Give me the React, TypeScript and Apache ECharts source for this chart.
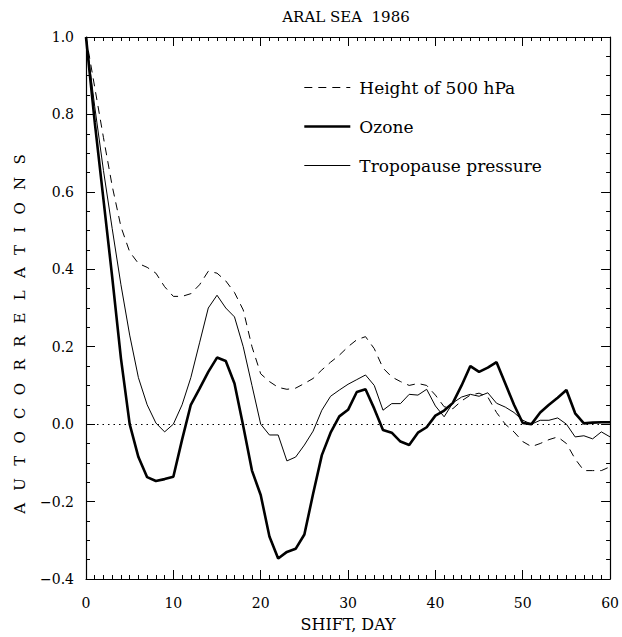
import React, { useEffect, useRef } from "react";
import * as echarts from "echarts";

const days: number[] = Array.from({ length: 61 }, (_, i) => i);

const height500: number[] = [
  1.0, 0.87, 0.74, 0.615, 0.51, 0.445, 0.415, 0.405, 0.39, 0.355,
  0.33, 0.33, 0.337, 0.36, 0.395, 0.39, 0.37, 0.34, 0.295, 0.2,
  0.13, 0.11, 0.095, 0.09, 0.093, 0.105, 0.118, 0.14, 0.16, 0.178,
  0.2, 0.218, 0.226, 0.195, 0.145, 0.122, 0.11, 0.1, 0.105, 0.1,
  0.075, 0.045, 0.04, 0.06, 0.075, 0.08, 0.07, 0.03, 0.0, -0.02,
  -0.045, -0.058, -0.05, -0.04, -0.033, -0.05, -0.09, -0.12, -0.12, -0.12,
  -0.11,
];

const ozone: number[] = [
  1.0, 0.78, 0.58, 0.38, 0.17, 0.0, -0.085, -0.137, -0.147, -0.142,
  -0.136, -0.04, 0.05, 0.092, 0.135, 0.172, 0.163, 0.105, -0.005, -0.12,
  -0.183, -0.29, -0.347, -0.33, -0.322, -0.285, -0.18, -0.08, -0.022, 0.02,
  0.037, 0.083, 0.09, 0.04, -0.015, -0.022, -0.045, -0.054, -0.022, -0.008,
  0.022, 0.035, 0.055, 0.1, 0.15, 0.135, 0.146, 0.16, 0.105, 0.05,
  0.003, 0.0, 0.03, 0.05, 0.068, 0.088, 0.028, 0.002, 0.004, 0.005,
  0.005,
];

const tropopause: number[] = [
  1.0, 0.82, 0.655, 0.505, 0.36, 0.23, 0.12, 0.05, 0.003, -0.02,
  0.0, 0.05, 0.12, 0.21, 0.3, 0.333, 0.3, 0.277, 0.2, 0.1,
  0.0, -0.028, -0.028, -0.095, -0.085, -0.054, -0.018, 0.036, 0.072, 0.088,
  0.103, 0.115, 0.127, 0.1, 0.036, 0.053, 0.053, 0.077, 0.075, 0.09,
  0.047, 0.019, 0.055, 0.07, 0.077, 0.072, 0.081, 0.054, 0.044, 0.03,
  0.01, 0.0, 0.01, 0.01, 0.016, 0.0, -0.033, -0.03, -0.038, -0.02,
  -0.033,
];

const seriesNames = ["Height of 500 hPa", "Ozone", "Tropopause pressure"];
const titleText = "ARAL SEA  1986";
const xName = "SHIFT, DAY";
const yName = "AUTOCORRELATIONS";

const FONT = "DejaVu Serif";

export default function App() {
  const ref = useRef<HTMLDivElement>(null);
  useEffect(() => {
    if (!ref.current) return;
    const chart = echarts.init(ref.current, null, { renderer: "svg" });
    const pairs = (ys: number[]) => days.map((d, i) => [d, ys[i]]);
    const axisCommon = {
      axisLine: { show: true, onZero: false, lineStyle: { color: "#000", width: 1.2 } },
      splitLine: { show: false },
    };
    const spacedY = yName.split("").join("\u2002\u00A0");
    const widths = [1, 2.6, 1];
    const dashes: any[] = [[8, 6], "solid", "solid"];
    chart.setOption({
      animation: false,
      backgroundColor: "#fff",
      grid: { left: 86, right: 10, top: 37, bottom: 57 },
      graphic: [
        {
          type: "text",
          x: 346,
          y: 17,
          style: {
            text: titleText,
            fontFamily: FONT,
            fontSize: 15,
            fill: "#000",
            align: "center",
            verticalAlign: "middle",
          },
        },
        {
          type: "text",
          x: 20,
          y: 334,
          rotation: Math.PI / 2,
          style: {
            text: spacedY,
            fontFamily: FONT,
            fontSize: 15,
            fill: "#000",
            align: "center",
            verticalAlign: "middle",
          },
        },
      ],
      legend: {
        orient: "vertical",
        left: 298,
        top: 74,
        itemWidth: 46,
        itemHeight: 14,
        itemGap: 22,
        data: seriesNames.map((n, i) => ({
          name: n,
          lineStyle: { width: widths[i], type: dashes[i], color: "#000" },
        })),
        itemStyle: { opacity: 0, borderWidth: 0 },
        textStyle: { fontFamily: FONT, fontSize: 17, color: "#000", padding: [0, 0, 0, 4] },
      },
      xAxis: [
        {
          type: "value",
          min: 0,
          max: 60,
          interval: 10,
          position: "bottom",
          name: xName,
          nameLocation: "middle",
          nameGap: 37,
          nameTextStyle: { fontFamily: FONT, fontSize: 16, color: "#000" },
          ...axisCommon,
          axisTick: { show: true, inside: true, length: 9, lineStyle: { color: "#000" } },
          minorTick: { show: true, splitNumber: 10, length: 4, lineStyle: { color: "#000" } },
          axisLabel: { fontFamily: FONT, fontSize: 14, color: "#000", margin: 17 },
        },
        {
          type: "value",
          min: 0,
          max: 60,
          interval: 10,
          position: "top",
          ...axisCommon,
          axisTick: { show: true, inside: true, length: 9, lineStyle: { color: "#000" } },
          minorTick: { show: true, splitNumber: 10, length: 4, lineStyle: { color: "#000" } },
          axisLabel: { show: false },
        },
      ],
      yAxis: [
        {
          type: "value",
          min: -0.4,
          max: 1.0,
          interval: 0.2,
          position: "left",
          ...axisCommon,
          axisTick: { show: true, inside: true, length: 9, lineStyle: { color: "#000" } },
          minorTick: { show: true, splitNumber: 4, length: 4, lineStyle: { color: "#000" } },
          axisLabel: {
            fontFamily: FONT,
            fontSize: 14,
            color: "#000",
            margin: 12,
            formatter: (v: number) => {
              const s = Math.abs(v).toFixed(1);
              return v < -1e-9 ? "\u2212" + s : s;
            },
          },
        },
        {
          type: "value",
          min: -0.4,
          max: 1.0,
          interval: 0.2,
          position: "right",
          ...axisCommon,
          axisTick: { show: true, inside: true, length: 9, lineStyle: { color: "#000" } },
          minorTick: { show: true, splitNumber: 4, length: 4, lineStyle: { color: "#000" } },
          axisLabel: { show: false },
        },
      ],
      series: [
        {
          name: seriesNames[0],
          type: "line",
          data: pairs(height500),
          symbol: "none",
          color: "#000",
          lineStyle: { color: "#000", width: widths[0], type: dashes[0] },
          markLine: {
            silent: true,
            symbol: "none",
            label: { show: false },
            lineStyle: { color: "#000", width: 1, type: [1.5, 4] },
            data: [{ yAxis: 0 }],
          },
        },
        {
          name: seriesNames[1],
          type: "line",
          data: pairs(ozone),
          symbol: "none",
          color: "#000",
          lineStyle: { color: "#000", width: widths[1], type: dashes[1] },
        },
        {
          name: seriesNames[2],
          type: "line",
          data: pairs(tropopause),
          symbol: "none",
          color: "#000",
          lineStyle: { color: "#000", width: widths[2], type: dashes[2] },
        },
      ],
    });
    return () => chart.dispose();
  }, []);
  return <div ref={ref} style={{ width: 622, height: 637, position: "absolute", left: 0, top: 0 }} />;
}
